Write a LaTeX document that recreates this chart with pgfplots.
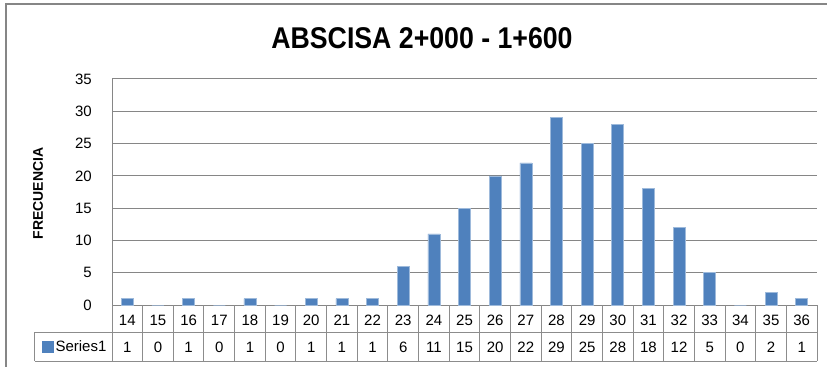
\documentclass[border=0pt]{standalone}
\usepackage{pgfplots}
\pgfplotsset{compat=1.18}
\usepackage{pgfplotstable}
\usepackage{fontspec}
\setmainfont{Liberation Sans}
\newfontfamily\titlefont[FakeStretch=0.89]{Liberation Sans}

\definecolor{barblue}{RGB}{79,129,189}
\definecolor{gridgray}{RGB}{134,134,134}
\definecolor{tablegray}{RGB}{140,140,140}

% frequency per class
\pgfplotstableread{
cat freq
14 1
15 0
16 1
17 0
18 1
19 0
20 1
21 1
22 1
23 6
24 11
25 15
26 20
27 22
28 29
29 25
30 28
31 18
32 12
33 5
34 0
35 2
36 1
}\datatab

\newcommand{\lblfont}{\fontsize{15bp}{17bp}\selectfont}

\begin{document}
\begin{tikzpicture}
\useasboundingbox (0bp,0bp) rectangle (827bp,367bp);
% chart frame
\draw[gridgray, line width=1.5bp] (6bp,-10bp) -- (6bp,363bp) -- (840bp,363bp);
% title and y label
\node[font=\titlefont\bfseries\fontsize{30bp}{36bp}\selectfont, anchor=base] at (422bp,318.7bp) {ABSCISA 2+000 - 1+600};
\node[rotate=90, font=\bfseries\fontsize{14bp}{16bp}\selectfont] at (38bp,173.5bp) {FRECUENCIA};

\begin{axis}[
  at={(112bp,62bp)}, anchor=south west,
  scale only axis, width=705bp, height=226bp,
  xmin=-0.5, xmax=22.5, ymin=0, ymax=35,
  axis x line=bottom, axis y line=left,
  axis line style={gridgray, line width=1bp, -},
  ytick={0,5,...,35},
  xtick={0,...,22},
  xticklabels from table={\datatab}{cat},
  major tick length=0pt,
  ymajorgrids,
  grid style={gridgray, line width=1bp},
  /pgf/number format/assume math mode=true,
  yticklabel style={anchor=east, inner sep=0pt, xshift=-20bp, font=\lblfont},
  xticklabel style={anchor=base, inner sep=0pt, yshift=-20.5bp, font=\lblfont},
  clip=false,
  legend style={at={(axis description cs:-0.0997,-0.1836)}, anchor=west,
    draw=none, fill=none, inner sep=0pt, font=\lblfont},
  legend image code/.code={\fill[barblue] (0bp,-5.5bp) rectangle (11bp,5.5bp);},
]
\addplot[ybar, bar width=12bp, fill=barblue, draw=barblue!55!white, line width=0.6bp]
  table[x expr=\coordindex, y=freq] {\datatab};
\addlegendentry{Series1}

% values row of the data table
\addplot[draw=none, mark=none, forget plot, nodes near coords,
  point meta=explicit symbolic,
  nodes near coords style={anchor=base, inner sep=0pt, yshift=-47.5bp, font=\lblfont}]
  table[x expr=\coordindex, y expr=0, meta=freq] {\datatab};

% data table grid
\draw[tablegray, line width=1bp] ([xshift=-77bp,yshift=-27bp]axis cs:-0.5,0) -- ([yshift=-27bp]axis cs:22.5,0);
\draw[tablegray, line width=1bp] ([xshift=-77bp,yshift=-56bp]axis cs:-0.5,0) -- ([yshift=-56bp]axis cs:22.5,0);
\draw[tablegray, line width=1bp] ([xshift=-77bp,yshift=-27bp]axis cs:-0.5,0) -- ([xshift=-77bp,yshift=-56bp]axis cs:-0.5,0);
\pgfplotsinvokeforeach{-0.5,0.5,...,22.5}{
  \draw[tablegray, line width=1bp] (axis cs:#1,0) -- ([yshift=-56bp]axis cs:#1,0);
}
\end{axis}
\end{tikzpicture}
\end{document}
